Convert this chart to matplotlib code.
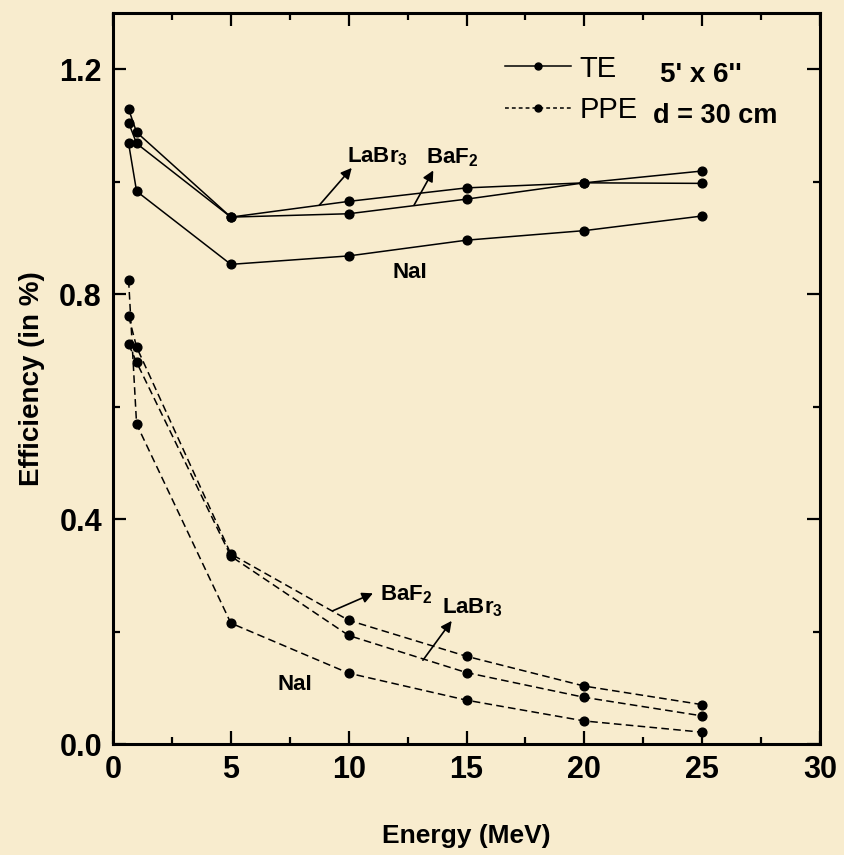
import matplotlib.pyplot as plt
from matplotlib.lines import Line2D
from matplotlib.ticker import MultipleLocator

# gamma energies (MeV)
energy = [0.662, 1.0, 5, 10, 15, 20, 25]

# total efficiency (%)
labr3_te = [1.129, 1.088, 0.937, 0.965, 0.989, 0.998, 0.997]
baf2_te = [1.105, 1.068, 0.937, 0.943, 0.969, 0.998, 1.019]
nai_te = [1.068, 0.983, 0.853, 0.868, 0.896, 0.913, 0.939]

# photopeak efficiency (%)
baf2_ppe = [0.761, 0.706, 0.338, 0.220, 0.156, 0.103, 0.070]
labr3_ppe = [0.711, 0.679, 0.334, 0.193, 0.127, 0.083, 0.050]
nai_ppe = [0.825, 0.569, 0.215, 0.126, 0.078, 0.041, 0.021]

plt.rcParams['font.family'] = ['Liberation Sans', 'DejaVu Sans']
plt.rcParams['mathtext.fontset'] = 'custom'
plt.rcParams['mathtext.rm'] = 'Liberation Sans:bold'
plt.rcParams['mathtext.default'] = 'rm'

bg = '#f8ecce'

fig = plt.figure(figsize=(8.44, 8.55), dpi=100, facecolor=bg)
ax = fig.add_axes([0.1339, 0.1298, 0.8377, 0.855])
ax.set_facecolor(bg)

dash = (0, (5, 2.8))
kw = dict(color='k', marker='o', markersize=6.3, lw=1.1)
for ys in (labr3_te, baf2_te, nai_te):
    ax.plot(energy, ys, ls='-', **kw)
for ys in (baf2_ppe, labr3_ppe, nai_ppe):
    ax.plot(energy, ys, ls=dash, **kw)

ax.set_xlim(0, 30)
ax.set_ylim(0, 1.3)
ax.xaxis.set_major_locator(MultipleLocator(5))
ax.xaxis.set_minor_locator(MultipleLocator(2.5))
ax.yaxis.set_major_locator(MultipleLocator(0.4))
ax.yaxis.set_minor_locator(MultipleLocator(0.2))
ax.yaxis.set_major_formatter(plt.FuncFormatter(lambda v, p: f'{v:.1f}'))
ax.tick_params(which='both', direction='in', top=True, right=True, width=1.6)
ax.tick_params(which='major', length=9.5, pad=8, labelsize=22)
ax.tick_params(which='minor', length=5)
for s in ax.spines.values():
    s.set_linewidth(2.2)
for lab in ax.get_xticklabels() + ax.get_yticklabels():
    lab.set_fontweight('bold')

ax.set_xlabel('Energy (MeV)', fontweight='bold', fontsize=19, labelpad=28)
ax.set_ylabel('Efficiency (in %)', fontweight='bold', fontsize=20, labelpad=10)

# legend
handles = [Line2D([], [], color='k', ls='-', lw=1.1, marker='o', markersize=5),
           Line2D([], [], color='k', ls=(0, (2.5, 2)), lw=1.1, marker='o', markersize=5)]
ax.legend(handles, ['TE', 'PPE'], loc='upper left', bbox_to_anchor=(0.5545, 0.943),
          frameon=False, handlelength=2.25, handletextpad=0.3, borderpad=0,
          borderaxespad=0, labelspacing=0.45, prop=dict(size=21))

ax.text(23.2, 1.177, "5' x 6''", fontweight='bold', fontsize=20, va='baseline')
ax.text(22.9, 1.104, 'd = 30 cm', fontweight='bold', fontsize=19.5, va='baseline')

# series labels with arrows
lab_kw = dict(fontweight='bold', fontsize=16, va='baseline')
arr = dict(arrowstyle='-|>', color='k', lw=1.2, mutation_scale=16, shrinkA=0, shrinkB=0)

ax.text(9.91, 1.035, r'LaBr$_3$', **lab_kw)
ax.annotate('', xy=(10.13, 1.0245), xytext=(8.75, 0.958), arrowprops=arr)
ax.text(13.3, 1.033, r'BaF$_2$', **lab_kw)
ax.annotate('', xy=(13.59, 1.02), xytext=(12.77, 0.958), arrowprops=arr)
ax.text(11.88, 0.828, 'NaI', **lab_kw)

ax.text(11.33, 0.256, r'BaF$_2$', **lab_kw)
ax.annotate('', xy=(11.03, 0.268), xytext=(9.33, 0.237), arrowprops=arr)
ax.text(13.96, 0.233, r'LaBr$_3$', **lab_kw)
ax.annotate('', xy=(14.37, 0.219), xytext=(13.15, 0.149), arrowprops=arr)
ax.text(6.96, 0.096, 'NaI', **lab_kw)

fig.savefig('out.png', dpi=100, facecolor=bg)
